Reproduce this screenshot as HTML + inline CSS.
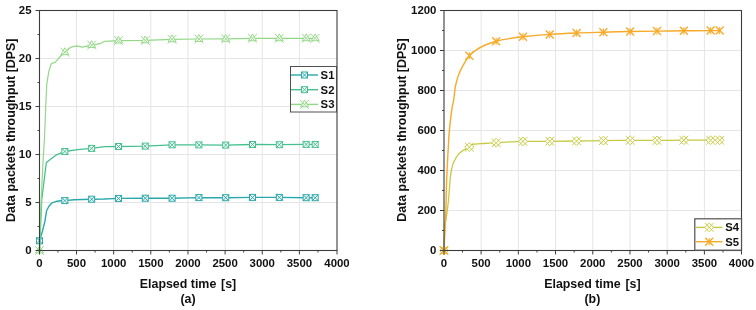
<!DOCTYPE html><html><head><meta charset="utf-8"><style>html,body{margin:0;padding:0;background:#fff;width:756px;height:310px;overflow:hidden}svg{display:block;will-change:transform}</style></head><body><svg width="756" height="310" viewBox="0 0 756 310">
<style>.tk{font:bold 11.4px "Liberation Sans",sans-serif;fill:#111}.ti{font:bold 12.42px "Liberation Sans",sans-serif;fill:#111}.lg{font:bold 11.3px "Liberation Sans",sans-serif;fill:#111}</style>
<rect width="756" height="310" fill="#fff"/>
<line x1="76.5" y1="10.5" x2="76.5" y2="250.5" stroke="#e5e5e5" stroke-width="1"/>
<line x1="113.65" y1="10.5" x2="113.65" y2="250.5" stroke="#e5e5e5" stroke-width="1"/>
<line x1="150.8" y1="10.5" x2="150.8" y2="250.5" stroke="#e5e5e5" stroke-width="1"/>
<line x1="187.95" y1="10.5" x2="187.95" y2="250.5" stroke="#e5e5e5" stroke-width="1"/>
<line x1="225.1" y1="10.5" x2="225.1" y2="250.5" stroke="#e5e5e5" stroke-width="1"/>
<line x1="262.25" y1="10.5" x2="262.25" y2="250.5" stroke="#e5e5e5" stroke-width="1"/>
<line x1="299.4" y1="10.5" x2="299.4" y2="250.5" stroke="#e5e5e5" stroke-width="1"/>
<line x1="39.5" y1="202.5" x2="337.0" y2="202.5" stroke="#e5e5e5" stroke-width="1"/>
<line x1="39.5" y1="154.5" x2="337.0" y2="154.5" stroke="#e5e5e5" stroke-width="1"/>
<line x1="39.5" y1="106.5" x2="337.0" y2="106.5" stroke="#e5e5e5" stroke-width="1"/>
<line x1="39.5" y1="58.5" x2="337.0" y2="58.5" stroke="#e5e5e5" stroke-width="1"/>
<path d="M39.5,240.8 L42.5,231 L44.9,221.4 L46.5,211 L48.9,206.3 L52.1,202.8 L57,201.2 L61.1,200.8 L64.7,200.6 L74,199.7 L91.3,199.2 L103.7,199 L118.4,198.4 L145.2,198.2 L171.9,198.2 L198.4,197.6 L225.4,197.7 L252.3,197.4 L279.2,197.4 L305.9,197.7 L314.7,197.7" fill="none" stroke="#2aa8ab" stroke-width="1.4" stroke-linejoin="round"/>
<g stroke="#2aa8ab" stroke-width="1.0" fill="none"><rect x="36.5" y="237.8" width="6" height="6" fill="#fff"/><path d="M36.5,237.8 L42.5,243.8 M42.5,237.8 L36.5,243.8"/></g>
<g stroke="#2aa8ab" stroke-width="1.0" fill="none"><rect x="61.85" y="197.59" width="6" height="6" fill="#fff"/><path d="M61.85,197.59 L67.85,203.59 M67.85,197.59 L61.85,203.59"/></g>
<g stroke="#2aa8ab" stroke-width="1.0" fill="none"><rect x="88.66" y="196.19" width="6" height="6" fill="#fff"/><path d="M88.66,196.19 L94.66,202.19 M94.66,196.19 L88.66,202.19"/></g>
<g stroke="#2aa8ab" stroke-width="1.0" fill="none"><rect x="115.47" y="195.4" width="6" height="6" fill="#fff"/><path d="M115.47,195.4 L121.47,201.4 M121.47,195.4 L115.47,201.4"/></g>
<g stroke="#2aa8ab" stroke-width="1.0" fill="none"><rect x="142.28" y="195.2" width="6" height="6" fill="#fff"/><path d="M142.28,195.2 L148.28,201.2 M148.28,195.2 L142.28,201.2"/></g>
<g stroke="#2aa8ab" stroke-width="1.0" fill="none"><rect x="169.09" y="195.2" width="6" height="6" fill="#fff"/><path d="M169.09,195.2 L175.09,201.2 M175.09,195.2 L169.09,201.2"/></g>
<g stroke="#2aa8ab" stroke-width="1.0" fill="none"><rect x="195.9" y="194.6" width="6" height="6" fill="#fff"/><path d="M195.9,194.6 L201.9,200.6 M201.9,194.6 L195.9,200.6"/></g>
<g stroke="#2aa8ab" stroke-width="1.0" fill="none"><rect x="222.71" y="194.7" width="6" height="6" fill="#fff"/><path d="M222.71,194.7 L228.71,200.7 M228.71,194.7 L222.71,200.7"/></g>
<g stroke="#2aa8ab" stroke-width="1.0" fill="none"><rect x="249.52" y="194.4" width="6" height="6" fill="#fff"/><path d="M249.52,194.4 L255.52,200.4 M255.52,194.4 L249.52,200.4"/></g>
<g stroke="#2aa8ab" stroke-width="1.0" fill="none"><rect x="276.33" y="194.4" width="6" height="6" fill="#fff"/><path d="M276.33,194.4 L282.33,200.4 M282.33,194.4 L276.33,200.4"/></g>
<g stroke="#2aa8ab" stroke-width="1.0" fill="none"><rect x="303.14" y="194.7" width="6" height="6" fill="#fff"/><path d="M303.14,194.7 L309.14,200.7 M309.14,194.7 L303.14,200.7"/></g>
<g stroke="#2aa8ab" stroke-width="1.0" fill="none"><rect x="312.2" y="194.7" width="6" height="6" fill="#fff"/><path d="M312.2,194.7 L318.2,200.7 M318.2,194.7 L312.2,200.7"/></g>
<path d="M39.5,250.5 L41.7,200 L46.3,163 L47.6,161.4 L56.6,154.8 L61.2,152.9 L64.6,151.5 L77.6,149.6 L91.5,148.4 L104.4,146.6 L118.3,146.5 L145.2,146.1 L172,144.8 L198.3,144.9 L225.2,145.1 L252.4,144.5 L279.3,144.7 L305.7,144.4 L315,144.4" fill="none" stroke="#45c08f" stroke-width="1.3" stroke-linejoin="round"/>
<g stroke="#45c08f" stroke-width="1.0" fill="none"><rect x="61.85" y="148.46" width="6" height="6" fill="#fff"/><path d="M61.85,148.46 L67.85,154.46 M67.85,148.46 L61.85,154.46"/></g>
<g stroke="#45c08f" stroke-width="1.0" fill="none"><rect x="88.66" y="145.38" width="6" height="6" fill="#fff"/><path d="M88.66,145.38 L94.66,151.38 M94.66,145.38 L88.66,151.38"/></g>
<g stroke="#45c08f" stroke-width="1.0" fill="none"><rect x="115.47" y="143.5" width="6" height="6" fill="#fff"/><path d="M115.47,143.5 L121.47,149.5 M121.47,143.5 L115.47,149.5"/></g>
<g stroke="#45c08f" stroke-width="1.0" fill="none"><rect x="142.28" y="143.1" width="6" height="6" fill="#fff"/><path d="M142.28,143.1 L148.28,149.1 M148.28,143.1 L142.28,149.1"/></g>
<g stroke="#45c08f" stroke-width="1.0" fill="none"><rect x="169.09" y="141.8" width="6" height="6" fill="#fff"/><path d="M169.09,141.8 L175.09,147.8 M175.09,141.8 L169.09,147.8"/></g>
<g stroke="#45c08f" stroke-width="1.0" fill="none"><rect x="195.9" y="141.9" width="6" height="6" fill="#fff"/><path d="M195.9,141.9 L201.9,147.9 M201.9,141.9 L195.9,147.9"/></g>
<g stroke="#45c08f" stroke-width="1.0" fill="none"><rect x="222.71" y="142.09" width="6" height="6" fill="#fff"/><path d="M222.71,142.09 L228.71,148.09 M228.71,142.09 L222.71,148.09"/></g>
<g stroke="#45c08f" stroke-width="1.0" fill="none"><rect x="249.52" y="141.5" width="6" height="6" fill="#fff"/><path d="M249.52,141.5 L255.52,147.5 M255.52,141.5 L249.52,147.5"/></g>
<g stroke="#45c08f" stroke-width="1.0" fill="none"><rect x="276.33" y="141.7" width="6" height="6" fill="#fff"/><path d="M276.33,141.7 L282.33,147.7 M282.33,141.7 L276.33,147.7"/></g>
<g stroke="#45c08f" stroke-width="1.0" fill="none"><rect x="303.14" y="141.4" width="6" height="6" fill="#fff"/><path d="M303.14,141.4 L309.14,147.4 M309.14,141.4 L303.14,147.4"/></g>
<g stroke="#45c08f" stroke-width="1.0" fill="none"><rect x="312.2" y="141.4" width="6" height="6" fill="#fff"/><path d="M312.2,141.4 L318.2,147.4 M318.2,141.4 L312.2,147.4"/></g>
<path d="M39.5,250.5 L41.2,200 L43.1,160 L44.4,140 L46,100 L46.8,83.9 L48.9,71 L51.3,63.7 L55.4,62.1 L60.2,56.5 L64.5,52.5 L70.9,47.1 L76.7,45.8 L82.5,47.1 L91.2,45.2 L100,43.7 L104.8,41.3 L118.6,40.6 L145.6,40.4 L171.7,39.3 L198.4,39 L225.6,38.9 L252.4,38.3 L279.3,38.3 L305.6,38.3 L315.2,38.3" fill="none" stroke="#92d886" stroke-width="1.2" stroke-linejoin="round"/>
<g stroke="#92d886" stroke-width="0.95" fill="none"><path d="M39.5,246.1 L43.46,252.92 L35.54,252.92 Z" fill="#fff"/><path d="M35.1,246.1 L43.9,254.9 M43.9,246.1 L35.1,254.9"/></g>
<g stroke="#92d886" stroke-width="0.95" fill="none"><path d="M64.85,47.8 L68.81,54.62 L60.89,54.62 Z" fill="#fff"/><path d="M60.45,47.8 L69.25,56.6 M69.25,47.8 L60.45,56.6"/></g>
<g stroke="#92d886" stroke-width="0.95" fill="none"><path d="M91.66,40.72 L95.62,47.54 L87.7,47.54 Z" fill="#fff"/><path d="M87.26,40.72 L96.06,49.52 M96.06,40.72 L87.26,49.52"/></g>
<g stroke="#92d886" stroke-width="0.95" fill="none"><path d="M118.47,36.21 L122.43,43.03 L114.51,43.03 Z" fill="#fff"/><path d="M114.07,36.21 L122.87,45.01 M122.87,36.21 L114.07,45.01"/></g>
<g stroke="#92d886" stroke-width="0.95" fill="none"><path d="M145.28,36 L149.24,42.82 L141.32,42.82 Z" fill="#fff"/><path d="M140.88,36 L149.68,44.8 M149.68,36 L140.88,44.8"/></g>
<g stroke="#92d886" stroke-width="0.95" fill="none"><path d="M172.09,34.9 L176.05,41.72 L168.13,41.72 Z" fill="#fff"/><path d="M167.69,34.9 L176.49,43.7 M176.49,34.9 L167.69,43.7"/></g>
<g stroke="#92d886" stroke-width="0.95" fill="none"><path d="M198.9,34.6 L202.86,41.42 L194.94,41.42 Z" fill="#fff"/><path d="M194.5,34.6 L203.3,43.4 M203.3,34.6 L194.5,43.4"/></g>
<g stroke="#92d886" stroke-width="0.95" fill="none"><path d="M225.71,34.5 L229.67,41.32 L221.75,41.32 Z" fill="#fff"/><path d="M221.31,34.5 L230.11,43.3 M230.11,34.5 L221.31,43.3"/></g>
<g stroke="#92d886" stroke-width="0.95" fill="none"><path d="M252.52,33.9 L256.48,40.72 L248.56,40.72 Z" fill="#fff"/><path d="M248.12,33.9 L256.92,42.7 M256.92,33.9 L248.12,42.7"/></g>
<g stroke="#92d886" stroke-width="0.95" fill="none"><path d="M279.33,33.9 L283.29,40.72 L275.37,40.72 Z" fill="#fff"/><path d="M274.93,33.9 L283.73,42.7 M283.73,33.9 L274.93,42.7"/></g>
<g stroke="#92d886" stroke-width="0.95" fill="none"><path d="M306.14,33.9 L310.1,40.72 L302.18,40.72 Z" fill="#fff"/><path d="M301.74,33.9 L310.54,42.7 M310.54,33.9 L301.74,42.7"/></g>
<g stroke="#92d886" stroke-width="0.95" fill="none"><path d="M315.2,33.9 L319.16,40.72 L311.24,40.72 Z" fill="#fff"/><path d="M310.8,33.9 L319.6,42.7 M319.6,33.9 L310.8,42.7"/></g>
<rect x="39.5" y="10.5" width="297.5" height="240" fill="none" stroke="#3c3c3c" stroke-width="1.1"/>
<line x1="39.5" y1="250.5" x2="39.5" y2="254.5" stroke="#3c3c3c" stroke-width="1"/>
<text x="39.5" y="267" text-anchor="middle" class="tk">0</text>
<line x1="57.93" y1="250.5" x2="57.93" y2="252.5" stroke="#3c3c3c" stroke-width="1"/>
<line x1="76.5" y1="250.5" x2="76.5" y2="254.5" stroke="#3c3c3c" stroke-width="1"/>
<text x="76.5" y="267" text-anchor="middle" class="tk">500</text>
<line x1="95.08" y1="250.5" x2="95.08" y2="252.5" stroke="#3c3c3c" stroke-width="1"/>
<line x1="113.65" y1="250.5" x2="113.65" y2="254.5" stroke="#3c3c3c" stroke-width="1"/>
<text x="113.65" y="267" text-anchor="middle" class="tk">1000</text>
<line x1="132.22" y1="250.5" x2="132.22" y2="252.5" stroke="#3c3c3c" stroke-width="1"/>
<line x1="150.8" y1="250.5" x2="150.8" y2="254.5" stroke="#3c3c3c" stroke-width="1"/>
<text x="150.8" y="267" text-anchor="middle" class="tk">1500</text>
<line x1="169.38" y1="250.5" x2="169.38" y2="252.5" stroke="#3c3c3c" stroke-width="1"/>
<line x1="187.95" y1="250.5" x2="187.95" y2="254.5" stroke="#3c3c3c" stroke-width="1"/>
<text x="187.95" y="267" text-anchor="middle" class="tk">2000</text>
<line x1="206.53" y1="250.5" x2="206.53" y2="252.5" stroke="#3c3c3c" stroke-width="1"/>
<line x1="225.1" y1="250.5" x2="225.1" y2="254.5" stroke="#3c3c3c" stroke-width="1"/>
<text x="225.1" y="267" text-anchor="middle" class="tk">2500</text>
<line x1="243.68" y1="250.5" x2="243.68" y2="252.5" stroke="#3c3c3c" stroke-width="1"/>
<line x1="262.25" y1="250.5" x2="262.25" y2="254.5" stroke="#3c3c3c" stroke-width="1"/>
<text x="262.25" y="267" text-anchor="middle" class="tk">3000</text>
<line x1="280.83" y1="250.5" x2="280.83" y2="252.5" stroke="#3c3c3c" stroke-width="1"/>
<line x1="299.4" y1="250.5" x2="299.4" y2="254.5" stroke="#3c3c3c" stroke-width="1"/>
<text x="299.4" y="267" text-anchor="middle" class="tk">3500</text>
<line x1="317.98" y1="250.5" x2="317.98" y2="252.5" stroke="#3c3c3c" stroke-width="1"/>
<line x1="337" y1="250.5" x2="337" y2="254.5" stroke="#3c3c3c" stroke-width="1"/>
<text x="337" y="267" text-anchor="middle" class="tk">4000</text>
<line x1="39.5" y1="250.5" x2="35.5" y2="250.5" stroke="#3c3c3c" stroke-width="1"/>
<text x="31.5" y="254.2" text-anchor="end" class="tk">0</text>
<line x1="39.5" y1="226.5" x2="37.5" y2="226.5" stroke="#3c3c3c" stroke-width="1"/>
<line x1="39.5" y1="202.5" x2="35.5" y2="202.5" stroke="#3c3c3c" stroke-width="1"/>
<text x="31.5" y="206.2" text-anchor="end" class="tk">5</text>
<line x1="39.5" y1="178.5" x2="37.5" y2="178.5" stroke="#3c3c3c" stroke-width="1"/>
<line x1="39.5" y1="154.5" x2="35.5" y2="154.5" stroke="#3c3c3c" stroke-width="1"/>
<text x="31.5" y="158.2" text-anchor="end" class="tk">10</text>
<line x1="39.5" y1="130.5" x2="37.5" y2="130.5" stroke="#3c3c3c" stroke-width="1"/>
<line x1="39.5" y1="106.5" x2="35.5" y2="106.5" stroke="#3c3c3c" stroke-width="1"/>
<text x="31.5" y="110.2" text-anchor="end" class="tk">15</text>
<line x1="39.5" y1="82.5" x2="37.5" y2="82.5" stroke="#3c3c3c" stroke-width="1"/>
<line x1="39.5" y1="58.5" x2="35.5" y2="58.5" stroke="#3c3c3c" stroke-width="1"/>
<text x="31.5" y="62.2" text-anchor="end" class="tk">20</text>
<line x1="39.5" y1="34.5" x2="37.5" y2="34.5" stroke="#3c3c3c" stroke-width="1"/>
<line x1="39.5" y1="10.5" x2="35.5" y2="10.5" stroke="#3c3c3c" stroke-width="1"/>
<text x="31.5" y="14.2" text-anchor="end" class="tk">25</text>
<text class="ti" x="188" y="288" text-anchor="middle">Elapsed time <tspan dx="1.3">[s]</tspan></text>
<text class="ti" x="188" y="303.4" text-anchor="middle">(a)</text>
<text class="ti" transform="translate(14.5,130.25) rotate(-90)" text-anchor="middle">Data packets throughput [DPS]</text>
<rect x="290.5" y="66.5" width="46" height="45.5" fill="#fff" stroke="#505050" stroke-width="1"/>
<line x1="291" y1="75" x2="318" y2="75" stroke="#2aa8ab" stroke-width="1.4"/>
<g stroke="#2aa8ab" stroke-width="1.0" fill="none"><rect x="301.5" y="72" width="6" height="6" fill="#fff"/><path d="M301.5,72 L307.5,78 M307.5,72 L301.5,78"/></g>
<text class="lg" x="320.6" y="78.8">S1</text>
<line x1="291" y1="89.7" x2="318" y2="89.7" stroke="#45c08f" stroke-width="1.4"/>
<g stroke="#45c08f" stroke-width="1.0" fill="none"><rect x="301.5" y="86.7" width="6" height="6" fill="#fff"/><path d="M301.5,86.7 L307.5,92.7 M307.5,86.7 L301.5,92.7"/></g>
<text class="lg" x="320.6" y="93.5">S2</text>
<line x1="291" y1="104.4" x2="318" y2="104.4" stroke="#92d886" stroke-width="1.4"/>
<g stroke="#92d886" stroke-width="0.95" fill="none"><path d="M304.5,100 L308.46,106.82 L300.54,106.82 Z" fill="#fff"/><path d="M300.1,100 L308.9,108.8 M308.9,100 L300.1,108.8"/></g>
<text class="lg" x="320.6" y="108.2">S3</text>
<line x1="481.11" y1="10.5" x2="481.11" y2="250.5" stroke="#e5e5e5" stroke-width="1"/>
<line x1="518.33" y1="10.5" x2="518.33" y2="250.5" stroke="#e5e5e5" stroke-width="1"/>
<line x1="555.54" y1="10.5" x2="555.54" y2="250.5" stroke="#e5e5e5" stroke-width="1"/>
<line x1="592.76" y1="10.5" x2="592.76" y2="250.5" stroke="#e5e5e5" stroke-width="1"/>
<line x1="629.97" y1="10.5" x2="629.97" y2="250.5" stroke="#e5e5e5" stroke-width="1"/>
<line x1="667.19" y1="10.5" x2="667.19" y2="250.5" stroke="#e5e5e5" stroke-width="1"/>
<line x1="704.4" y1="10.5" x2="704.4" y2="250.5" stroke="#e5e5e5" stroke-width="1"/>
<line x1="444.0" y1="210.5" x2="741.5" y2="210.5" stroke="#e5e5e5" stroke-width="1"/>
<line x1="444.0" y1="170.5" x2="741.5" y2="170.5" stroke="#e5e5e5" stroke-width="1"/>
<line x1="444.0" y1="130.5" x2="741.5" y2="130.5" stroke="#e5e5e5" stroke-width="1"/>
<line x1="444.0" y1="90.5" x2="741.5" y2="90.5" stroke="#e5e5e5" stroke-width="1"/>
<line x1="444.0" y1="50.5" x2="741.5" y2="50.5" stroke="#e5e5e5" stroke-width="1"/>
<path d="M444,250.5 C444.15,246.75 444.45,233.92 444.9,228 C445.35,222.08 446.1,219.67 446.7,215 C447.3,210.33 447.93,205.83 448.5,200 C449.07,194.17 449.62,185 450.1,180 C450.58,175 450.8,172.95 451.4,170 C452,167.05 452.52,164.93 453.7,162.3 C454.88,159.67 456.88,156.22 458.5,154.2 C460.12,152.18 461.62,151.35 463.4,150.2 C465.18,149.05 467.78,148.22 469.2,147.3 C470.62,146.38 469.43,145.33 471.9,144.7 C474.37,144.07 479.88,143.83 484,143.5 C488.12,143.17 490.08,143.05 496.6,142.7 C503.12,142.35 514.2,141.63 523.1,141.4 C532,141.17 541.07,141.37 550,141.3 C558.93,141.23 567.82,141.12 576.7,141 C585.58,140.88 594.35,140.7 603.3,140.6 C612.25,140.5 621.42,140.43 630.4,140.4 C639.38,140.37 648.25,140.43 657.2,140.4 C666.15,140.37 675.18,140.23 684.1,140.2 C693.02,140.17 704.78,140.2 710.7,140.2 C716.62,140.2 718.12,140.2 719.6,140.2" fill="none" stroke="#c6ca42" stroke-width="1.3" stroke-linejoin="round"/>
<path d="M444,250.5 C444.18,246.25 444.82,230.92 445.1,225 C445.38,219.08 445.47,221.67 445.7,215 C445.93,208.33 446.18,194.17 446.5,185 C446.82,175.83 447.23,167.5 447.6,160 C447.97,152.5 448.4,144.97 448.7,140 C449,135.03 449.03,134.08 449.4,130.2 C449.77,126.32 450.42,120.63 450.9,116.7 C451.38,112.77 451.83,109.38 452.3,106.6 C452.77,103.82 453.2,103.25 453.7,100 C454.2,96.75 454.63,90.87 455.3,87.1 C455.97,83.33 456.75,80.35 457.7,77.4 C458.65,74.45 459.78,71.95 461,69.4 C462.22,66.85 463.57,64.43 465,62.1 C466.43,59.77 467.78,57.4 469.6,55.4 C471.42,53.4 473.27,51.83 475.9,50.1 C478.53,48.37 482,46.48 485.4,45 C488.8,43.52 492.37,42.27 496.3,41.2 C500.23,40.13 504.57,39.35 509,38.6 C513.43,37.85 516.12,37.4 522.9,36.7 C529.68,36 540.77,35.02 549.7,34.4 C558.63,33.78 567.53,33.37 576.5,33 C585.47,32.63 594.58,32.45 603.5,32.2 C612.42,31.95 621.08,31.68 630,31.5 C638.92,31.32 647.95,31.22 657,31.1 C666.05,30.98 675.35,30.88 684.3,30.8 C693.25,30.72 704.75,30.63 710.7,30.6 C716.65,30.57 718.45,30.6 720,30.6" fill="none" stroke="#f7aa27" stroke-width="1.4" stroke-linejoin="round"/>
<g stroke="#c6ca42" stroke-width="0.95" fill="none"><path d="M444,246.1 L448.4,250.5 L444,254.9 L439.6,250.5 Z" fill="#fff"/><path d="M439.6,246.1 L448.4,254.9 M448.4,246.1 L439.6,254.9"/></g>
<g stroke="#c6ca42" stroke-width="0.95" fill="none"><path d="M469.35,142.76 L473.75,147.16 L469.35,151.56 L464.95,147.16 Z" fill="#fff"/><path d="M464.95,142.76 L473.75,151.56 M473.75,142.76 L464.95,151.56"/></g>
<g stroke="#c6ca42" stroke-width="0.95" fill="none"><path d="M496.16,138.33 L500.56,142.73 L496.16,147.13 L491.76,142.73 Z" fill="#fff"/><path d="M491.76,138.33 L500.56,147.13 M500.56,138.33 L491.76,147.13"/></g>
<g stroke="#c6ca42" stroke-width="0.95" fill="none"><path d="M522.97,137.01 L527.37,141.41 L522.97,145.81 L518.57,141.41 Z" fill="#fff"/><path d="M518.57,137.01 L527.37,145.81 M527.37,137.01 L518.57,145.81"/></g>
<g stroke="#c6ca42" stroke-width="0.95" fill="none"><path d="M549.78,136.9 L554.18,141.3 L549.78,145.7 L545.38,141.3 Z" fill="#fff"/><path d="M545.38,136.9 L554.18,145.7 M554.18,136.9 L545.38,145.7"/></g>
<g stroke="#c6ca42" stroke-width="0.95" fill="none"><path d="M576.59,136.6 L580.99,141 L576.59,145.4 L572.19,141 Z" fill="#fff"/><path d="M572.19,136.6 L580.99,145.4 M580.99,136.6 L572.19,145.4"/></g>
<g stroke="#c6ca42" stroke-width="0.95" fill="none"><path d="M603.4,136.2 L607.8,140.6 L603.4,145 L599,140.6 Z" fill="#fff"/><path d="M599,136.2 L607.8,145 M607.8,136.2 L599,145"/></g>
<g stroke="#c6ca42" stroke-width="0.95" fill="none"><path d="M630.21,136 L634.61,140.4 L630.21,144.8 L625.81,140.4 Z" fill="#fff"/><path d="M625.81,136 L634.61,144.8 M634.61,136 L625.81,144.8"/></g>
<g stroke="#c6ca42" stroke-width="0.95" fill="none"><path d="M657.02,136 L661.42,140.4 L657.02,144.8 L652.62,140.4 Z" fill="#fff"/><path d="M652.62,136 L661.42,144.8 M661.42,136 L652.62,144.8"/></g>
<g stroke="#c6ca42" stroke-width="0.95" fill="none"><path d="M683.83,135.8 L688.23,140.2 L683.83,144.6 L679.43,140.2 Z" fill="#fff"/><path d="M679.43,135.8 L688.23,144.6 M688.23,135.8 L679.43,144.6"/></g>
<g stroke="#c6ca42" stroke-width="0.95" fill="none"><path d="M710.64,135.8 L715.04,140.2 L710.64,144.6 L706.24,140.2 Z" fill="#fff"/><path d="M706.24,135.8 L715.04,144.6 M715.04,135.8 L706.24,144.6"/></g>
<g stroke="#c6ca42" stroke-width="0.95" fill="none"><path d="M719.7,135.8 L724.1,140.2 L719.7,144.6 L715.3,140.2 Z" fill="#fff"/><path d="M715.3,135.8 L724.1,144.6 M724.1,135.8 L715.3,144.6"/></g>
<g stroke="#f7aa27" fill="none"><path stroke-width="1.35" d="M440,246.5 L448,254.5 M448,246.5 L440,254.5"/><path stroke-width="1.0125000000000002" d="M444,246.9 L444,254.1"/></g>
<g stroke="#f7aa27" fill="none"><path stroke-width="1.35" d="M465.35,51.76 L473.35,59.76 M473.35,51.76 L465.35,59.76"/><path stroke-width="1.0125000000000002" d="M469.35,52.16 L469.35,59.36"/></g>
<g stroke="#f7aa27" fill="none"><path stroke-width="1.35" d="M492.16,37.25 L500.16,45.25 M500.16,37.25 L492.16,45.25"/><path stroke-width="1.0125000000000002" d="M496.16,37.65 L496.16,44.85"/></g>
<g stroke="#f7aa27" fill="none"><path stroke-width="1.35" d="M518.97,32.69 L526.97,40.69 M526.97,32.69 L518.97,40.69"/><path stroke-width="1.0125000000000002" d="M522.97,33.09 L522.97,40.29"/></g>
<g stroke="#f7aa27" fill="none"><path stroke-width="1.35" d="M545.78,30.4 L553.78,38.4 M553.78,30.4 L545.78,38.4"/><path stroke-width="1.0125000000000002" d="M549.78,30.8 L549.78,38"/></g>
<g stroke="#f7aa27" fill="none"><path stroke-width="1.35" d="M572.59,29 L580.59,37 M580.59,29 L572.59,37"/><path stroke-width="1.0125000000000002" d="M576.59,29.4 L576.59,36.6"/></g>
<g stroke="#f7aa27" fill="none"><path stroke-width="1.35" d="M599.4,28.2 L607.4,36.2 M607.4,28.2 L599.4,36.2"/><path stroke-width="1.0125000000000002" d="M603.4,28.6 L603.4,35.8"/></g>
<g stroke="#f7aa27" fill="none"><path stroke-width="1.35" d="M626.21,27.5 L634.21,35.5 M634.21,27.5 L626.21,35.5"/><path stroke-width="1.0125000000000002" d="M630.21,27.9 L630.21,35.1"/></g>
<g stroke="#f7aa27" fill="none"><path stroke-width="1.35" d="M653.02,27.1 L661.02,35.1 M661.02,27.1 L653.02,35.1"/><path stroke-width="1.0125000000000002" d="M657.02,27.5 L657.02,34.7"/></g>
<g stroke="#f7aa27" fill="none"><path stroke-width="1.35" d="M679.83,26.81 L687.83,34.81 M687.83,26.81 L679.83,34.81"/><path stroke-width="1.0125000000000002" d="M683.83,27.21 L683.83,34.41"/></g>
<g stroke="#f7aa27" fill="none"><path stroke-width="1.35" d="M706.64,26.6 L714.64,34.6 M714.64,26.6 L706.64,34.6"/><path stroke-width="1.0125000000000002" d="M710.64,27 L710.64,34.2"/></g>
<g stroke="#f7aa27" fill="none"><path stroke-width="1.35" d="M715.7,26.6 L723.7,34.6 M723.7,26.6 L715.7,34.6"/><path stroke-width="1.0125000000000002" d="M719.7,27 L719.7,34.2"/></g>
<rect x="444.0" y="10.5" width="297.5" height="240" fill="none" stroke="#3c3c3c" stroke-width="1.1"/>
<line x1="444" y1="250.5" x2="444" y2="254.5" stroke="#3c3c3c" stroke-width="1"/>
<text x="444" y="267" text-anchor="middle" class="tk">0</text>
<line x1="462.51" y1="250.5" x2="462.51" y2="252.5" stroke="#3c3c3c" stroke-width="1"/>
<line x1="481.11" y1="250.5" x2="481.11" y2="254.5" stroke="#3c3c3c" stroke-width="1"/>
<text x="481.11" y="267" text-anchor="middle" class="tk">500</text>
<line x1="499.72" y1="250.5" x2="499.72" y2="252.5" stroke="#3c3c3c" stroke-width="1"/>
<line x1="518.33" y1="250.5" x2="518.33" y2="254.5" stroke="#3c3c3c" stroke-width="1"/>
<text x="518.33" y="267" text-anchor="middle" class="tk">1000</text>
<line x1="536.94" y1="250.5" x2="536.94" y2="252.5" stroke="#3c3c3c" stroke-width="1"/>
<line x1="555.54" y1="250.5" x2="555.54" y2="254.5" stroke="#3c3c3c" stroke-width="1"/>
<text x="555.54" y="267" text-anchor="middle" class="tk">1500</text>
<line x1="574.15" y1="250.5" x2="574.15" y2="252.5" stroke="#3c3c3c" stroke-width="1"/>
<line x1="592.76" y1="250.5" x2="592.76" y2="254.5" stroke="#3c3c3c" stroke-width="1"/>
<text x="592.76" y="267" text-anchor="middle" class="tk">2000</text>
<line x1="611.37" y1="250.5" x2="611.37" y2="252.5" stroke="#3c3c3c" stroke-width="1"/>
<line x1="629.97" y1="250.5" x2="629.97" y2="254.5" stroke="#3c3c3c" stroke-width="1"/>
<text x="629.97" y="267" text-anchor="middle" class="tk">2500</text>
<line x1="648.58" y1="250.5" x2="648.58" y2="252.5" stroke="#3c3c3c" stroke-width="1"/>
<line x1="667.19" y1="250.5" x2="667.19" y2="254.5" stroke="#3c3c3c" stroke-width="1"/>
<text x="667.19" y="267" text-anchor="middle" class="tk">3000</text>
<line x1="685.8" y1="250.5" x2="685.8" y2="252.5" stroke="#3c3c3c" stroke-width="1"/>
<line x1="704.4" y1="250.5" x2="704.4" y2="254.5" stroke="#3c3c3c" stroke-width="1"/>
<text x="704.4" y="267" text-anchor="middle" class="tk">3500</text>
<line x1="723.01" y1="250.5" x2="723.01" y2="252.5" stroke="#3c3c3c" stroke-width="1"/>
<line x1="741.5" y1="250.5" x2="741.5" y2="254.5" stroke="#3c3c3c" stroke-width="1"/>
<text x="741.5" y="267" text-anchor="middle" class="tk">4000</text>
<line x1="444" y1="250.5" x2="440" y2="250.5" stroke="#3c3c3c" stroke-width="1"/>
<text x="436.4" y="254.2" text-anchor="end" class="tk">0</text>
<line x1="444" y1="230.5" x2="442" y2="230.5" stroke="#3c3c3c" stroke-width="1"/>
<line x1="444" y1="210.5" x2="440" y2="210.5" stroke="#3c3c3c" stroke-width="1"/>
<text x="436.4" y="214.2" text-anchor="end" class="tk">200</text>
<line x1="444" y1="190.5" x2="442" y2="190.5" stroke="#3c3c3c" stroke-width="1"/>
<line x1="444" y1="170.5" x2="440" y2="170.5" stroke="#3c3c3c" stroke-width="1"/>
<text x="436.4" y="174.2" text-anchor="end" class="tk">400</text>
<line x1="444" y1="150.5" x2="442" y2="150.5" stroke="#3c3c3c" stroke-width="1"/>
<line x1="444" y1="130.5" x2="440" y2="130.5" stroke="#3c3c3c" stroke-width="1"/>
<text x="436.4" y="134.2" text-anchor="end" class="tk">600</text>
<line x1="444" y1="110.5" x2="442" y2="110.5" stroke="#3c3c3c" stroke-width="1"/>
<line x1="444" y1="90.5" x2="440" y2="90.5" stroke="#3c3c3c" stroke-width="1"/>
<text x="436.4" y="94.2" text-anchor="end" class="tk">800</text>
<line x1="444" y1="70.5" x2="442" y2="70.5" stroke="#3c3c3c" stroke-width="1"/>
<line x1="444" y1="50.5" x2="440" y2="50.5" stroke="#3c3c3c" stroke-width="1"/>
<text x="436.4" y="54.2" text-anchor="end" class="tk">1000</text>
<line x1="444" y1="30.5" x2="442" y2="30.5" stroke="#3c3c3c" stroke-width="1"/>
<line x1="444" y1="10.5" x2="440" y2="10.5" stroke="#3c3c3c" stroke-width="1"/>
<text x="436.4" y="14.2" text-anchor="end" class="tk">1200</text>
<text class="ti" x="592.4" y="288" text-anchor="middle">Elapsed time <tspan dx="1.3">[s]</tspan></text>
<text class="ti" x="592.4" y="303.4" text-anchor="middle">(b)</text>
<text class="ti" transform="translate(406,130.1) rotate(-90)" text-anchor="middle">Data packets throughput [DPS]</text>
<rect x="694.8" y="218.8" width="46.7" height="31.4" fill="#fff" stroke="#505050" stroke-width="1.2"/>
<line x1="696" y1="227.4" x2="722.5" y2="227.4" stroke="#c6ca42" stroke-width="1.4"/>
<g stroke="#c6ca42" stroke-width="0.95" fill="none"><path d="M709.2,223 L713.6,227.4 L709.2,231.8 L704.8,227.4 Z" fill="#fff"/><path d="M704.8,223 L713.6,231.8 M713.6,223 L704.8,231.8"/></g>
<text class="lg" x="725.3" y="231.3">S4</text>
<line x1="696" y1="241.7" x2="722.5" y2="241.7" stroke="#f7aa27" stroke-width="1.4"/>
<g stroke="#f7aa27" fill="none"><path stroke-width="1.35" d="M705.2,237.7 L713.2,245.7 M713.2,237.7 L705.2,245.7"/><path stroke-width="1.0125000000000002" d="M709.2,238.1 L709.2,245.3"/></g>
<text class="lg" x="725.3" y="245.6">S5</text>
</svg></body></html>
